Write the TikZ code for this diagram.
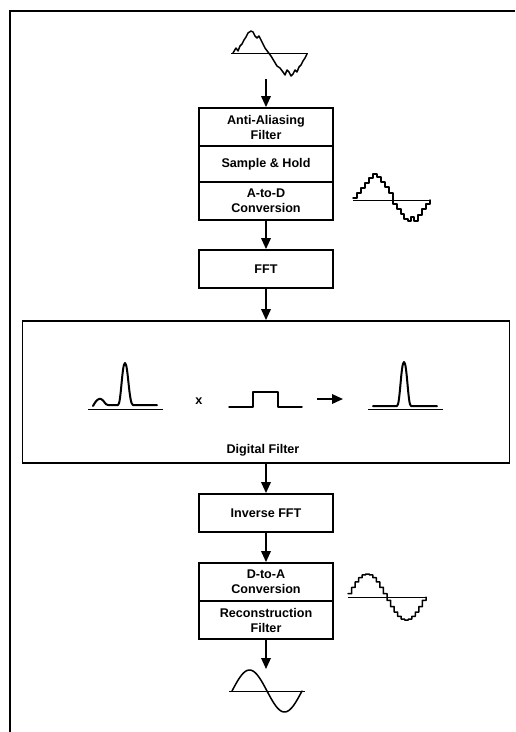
\documentclass[tikz,border=0pt]{standalone}
\usepackage{fontspec}
\setmainfont{Liberation Sans}
\usetikzlibrary{arrows.meta}
\begin{document}
\begin{tikzpicture}[x=1pt,y=-1pt,
  blk/.style={draw, line width=1.8pt, minimum width=134pt, minimum height=38pt, inner sep=0pt, align=center, font=\fontsize{12.6}{15}\selectfont\bfseries},
  lbl/.style={inner sep=0pt, font=\fontsize{12.6}{15}\selectfont\bfseries},
  flow/.style={line width=1.8pt, -{Triangle[length=11pt,width=9.5pt]}},
  wave/.style={line width=1.5pt, line join=round, line cap=round},
  spec/.style={line width=2pt, line join=round, line cap=round},
  axisline/.style={line width=0.8pt},
  frame/.style={line width=1.8pt}]
\useasboundingbox (0,0) rectangle (515,732);

% frame
\draw[frame] (515,11) -- (10,11) -- (10,732);

% input wave
\draw[axisline] (231,53) -- (308,53);
\draw[wave] (233,53) -- (236,48) -- (238,51) -- (240,46) -- (242,44) -- (244,40) -- (246,37) -- (248,33) -- (251,31) -- (253,32) -- (255,36) -- (257,38) -- (259,36) -- (261,40) -- (263,44) -- (265,48) -- (268,52) -- (271,56) -- (274,61) -- (277,66) -- (280,68) -- (283,72) -- (285,75) -- (287,70) -- (289,72) -- (291,76) -- (293,74) -- (295,70) -- (297,72) -- (299,67) -- (301,65) -- (303,61) -- (305,58) -- (307,54);
\coordinate (inwave) at (266,79);

% first block
\node[blk] (aa) at (266,127) {Anti-Aliasing\\Filter};
\node[blk, minimum height=36pt] (sh) at (266,164) {Sample \& Hold};
\node[blk] (ad) at (266,201) {A-to-D\\Conversion};

% sampled staircase
\draw[axisline] (353,200) -- (430,200);
\draw[wave] plot[const plot] coordinates {(353,198) (357,193) (361,188) (365,183) (369,178) (373,174) (377,177) (381,182) (385,187) (389,193) (393,204) (397,209) (401,214) (404,219) (408,221) (411,217) (414,221) (418,215) (422,209) (426,204) (430,200)};

\node[blk] (fft) at (266,269) {FFT};

% digital filter
\node[draw, line width=1.8pt, minimum width=487pt, minimum height=142pt, inner sep=0pt] (df) at (266,392) {};
\node[lbl] (dflabel) at (263,450) {Digital Filter};

% spectrum in
\draw[axisline] (88,409) -- (163,409);
\draw[spec] (93,406) .. controls (96,400) and (99,398) .. (101,399) .. controls (104,400) and (105,405) .. (108,405) -- (118,405) .. controls (121,405) and (122,363) .. (125,363) .. controls (128,363) and (129,405) .. (133,405) -- (157,405);
% times
\node[lbl] (times) at (199,401) {x};
% rect window
\draw[wave] (229,407) -- (253,407) -- (253,392) -- (278,392) -- (278,407) -- (302,407);
% arrow
\coordinate (fa) at (317,399);
\coordinate (fb) at (343,399);
\draw[flow] (fa) -- (fb);
% spectrum out
\draw[axisline] (368,409) -- (443,409);
\draw[spec] (373,406) -- (397,406) .. controls (400,406) and (401,362) .. (404,362) .. controls (407,362) and (408,406) .. (411,406) -- (437,406);

\node[blk] (ifft) at (266,513) {Inverse FFT};
\node[blk] (da) at (266,582) {D-to-A\\Conversion};
\node[blk] (rf) at (266,620) {Reconstruction\\Filter};

% D-to-A staircase
\draw[axisline] (348,597) -- (426,597);
\draw[wave] plot[const plot, domain=0:21, samples=22] ({348+78*\x/22},{597-23*sin(16.3636*(\x+0.5))}) -- (426,600.3) -- (426,597);

% output sine
\draw[axisline] (229,691) -- (305,691);
\draw[wave] plot[smooth, domain=0:70, samples=60] ({232+\x},{691-21*sin(5.142857*\x)});
\coordinate (outwave) at (266,669);

% flow arrows
\draw[flow] (inwave) -- (aa.north);
\draw[flow] (ad.south) -- (fft.north);
\draw[flow] (fft.south) -- (df.north);
\draw[flow] (df.south) -- (ifft.north);
\draw[flow] (ifft.south) -- (da.north);
\draw[flow] (rf.south) -- (outwave);
\end{tikzpicture}
\end{document}
